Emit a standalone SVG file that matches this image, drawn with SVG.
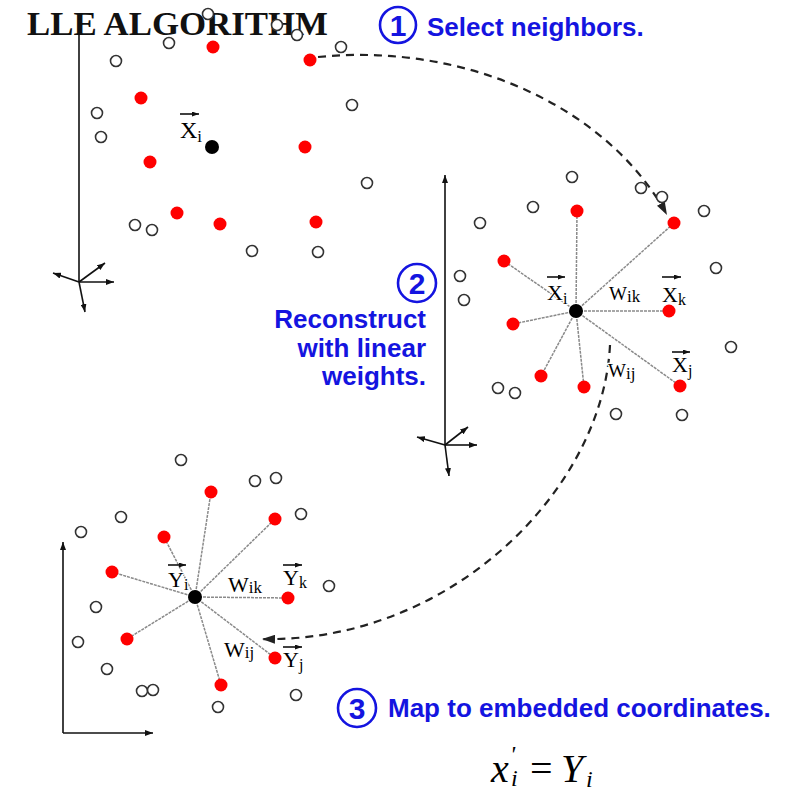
<svg xmlns="http://www.w3.org/2000/svg" width="795" height="798" viewBox="0 0 795 798">
<style>
.op{fill:#fff;stroke:#333;stroke-width:1.6}
.rd{fill:#ff0000}
.bk{fill:#000}
.nb{stroke:#8a8a8a;stroke-width:1.5;stroke-dasharray:3 1;fill:none}
.ax{stroke:#111;stroke-width:1.6;fill:none}
.dash{stroke:#222;stroke-width:2.2;stroke-dasharray:8 6;fill:none}
.lab{font-family:"Liberation Serif","Times New Roman",serif;fill:#000;paint-order:stroke;stroke:#fff;stroke-width:2.5;stroke-linejoin:round}
.vec{stroke:#111;stroke-width:1.6;fill:none}
.blue{font-family:"Liberation Sans",Arial,sans-serif;font-weight:bold;fill:#1414e0;font-size:26px}
.num{stroke:#1414e0;stroke-width:2.6;fill:#fff}
.math{font-family:"Liberation Serif","Times New Roman",serif;fill:#000}
</style>
<defs>
<marker id="ah" viewBox="0 0 12 8" refX="12" refY="4" markerWidth="13" markerHeight="9" markerUnits="userSpaceOnUse" orient="auto" preserveAspectRatio="none"><path d="M0,0 L12,4 L0,8 z" fill="#222"/></marker>
<marker id="axh" viewBox="0 0 8 6" refX="8" refY="3" markerWidth="8" markerHeight="6" markerUnits="userSpaceOnUse" orient="auto" preserveAspectRatio="none"><path d="M0,0 L8,3 L0,6 z" fill="#111"/></marker>
<marker id="vh" viewBox="0 0 6 5" refX="6" refY="2.5" markerWidth="7" markerHeight="5" markerUnits="userSpaceOnUse" orient="auto" preserveAspectRatio="none"><path d="M0,0 L6,2.5 L0,5 z" fill="#111"/></marker>
</defs>
<rect width="795" height="798" fill="#fff"/>

<g id="title">
<text x="27" y="35" font-family="Liberation Serif,'Times New Roman',serif" font-weight="bold" font-size="34.5" fill="#111" textLength="301" lengthAdjust="spacingAndGlyphs">LLE ALGORITHM</text>
</g>

<g id="axes1">
<line class="ax" x1="79" y1="282" x2="79" y2="30"/>
<line class="ax" x1="79" y1="282" x2="114" y2="282" marker-end="url(#axh)"/>
<line class="ax" x1="79" y1="282" x2="105" y2="263" marker-end="url(#axh)"/>
<line class="ax" x1="79" y1="282" x2="53" y2="273" marker-end="url(#axh)"/>
<line class="ax" x1="79" y1="282" x2="85" y2="312" marker-end="url(#axh)"/>
</g>
<g id="axes2">
<line class="ax" x1="445" y1="445" x2="445" y2="175" marker-end="url(#axh)"/>
<line class="ax" x1="445" y1="445" x2="477" y2="445" marker-end="url(#axh)"/>
<line class="ax" x1="445" y1="445" x2="468" y2="427" marker-end="url(#axh)"/>
<line class="ax" x1="445" y1="445" x2="417" y2="437" marker-end="url(#axh)"/>
<line class="ax" x1="445" y1="445" x2="449" y2="476" marker-end="url(#axh)"/>
</g>
<g id="axes3">
<line class="ax" x1="63" y1="733" x2="63" y2="542" marker-end="url(#axh)"/>
<line class="ax" x1="63" y1="733" x2="153" y2="733" marker-end="url(#axh)"/>
</g>

<g id="connectors">
<path class="dash" d="M318,57 C470,42 610,110 667,215" marker-end="url(#ah)"/>
<path class="dash" d="M610,345 C603,490 450,643 262,639" marker-end="url(#ah)"/>
<g id="weights2">
<line class="nb" x1="576" y1="311" x2="577" y2="211"/>
<line class="nb" x1="576" y1="311" x2="674" y2="223"/>
<line class="nb" x1="576" y1="311" x2="504" y2="261"/>
<line class="nb" x1="576" y1="311" x2="513" y2="324"/>
<line class="nb" x1="576" y1="311" x2="669" y2="311"/>
<line class="nb" x1="576" y1="311" x2="541" y2="376"/>
<line class="nb" x1="576" y1="311" x2="584" y2="387"/>
<line class="nb" x1="576" y1="311" x2="680" y2="386"/>
</g>
<g id="weights3">
<line class="nb" x1="195" y1="597" x2="211" y2="492"/>
<line class="nb" x1="195" y1="597" x2="275" y2="519"/>
<line class="nb" x1="195" y1="597" x2="164" y2="537"/>
<line class="nb" x1="195" y1="597" x2="112" y2="572"/>
<line class="nb" x1="195" y1="597" x2="288" y2="598"/>
<line class="nb" x1="195" y1="597" x2="127" y2="639"/>
<line class="nb" x1="195" y1="597" x2="275" y2="658"/>
<line class="nb" x1="195" y1="597" x2="221" y2="685"/>
</g>
</g>

<g id="labels1">
<text class="lab" x="180" y="138" font-size="24">X<tspan font-size="17" dy="4">i</tspan></text>
<line class="vec" x1="180" y1="114" x2="199" y2="114" marker-end="url(#vh)"/>
</g>
<g id="labels2">
<text class="lab" x="547" y="300" font-size="22">X<tspan font-size="16" dy="4">i</tspan></text>
<line class="vec" x1="547" y1="277" x2="565" y2="277" marker-end="url(#vh)"/>
<text class="lab" x="609" y="300" font-size="19">W<tspan font-size="17" dy="2">ik</tspan></text>
<text class="lab" x="662" y="302" font-size="22">X<tspan font-size="16" dy="3">k</tspan></text>
<line class="vec" x1="662" y1="277" x2="681" y2="277" marker-end="url(#vh)"/>
<text class="lab" x="608" y="377" font-size="19">W<tspan font-size="17" dy="2">ij</tspan></text>
<text class="lab" x="672" y="372" font-size="22">X<tspan font-size="16" dy="4">j</tspan></text>
<line class="vec" x1="672" y1="352" x2="690" y2="352" marker-end="url(#vh)"/>
</g>
<g id="labels3">
<text class="lab" x="168" y="587" font-size="22">Y<tspan font-size="16" dy="3">i</tspan></text>
<line class="vec" x1="168" y1="565" x2="186" y2="565" marker-end="url(#vh)"/>
<text class="lab" x="228" y="592" font-size="22">W<tspan font-size="17" dy="1">ik</tspan></text>
<text class="lab" x="283" y="585" font-size="22">Y<tspan font-size="16" dy="3">k</tspan></text>
<line class="vec" x1="283" y1="565" x2="302" y2="565" marker-end="url(#vh)"/>
<text class="lab" x="224" y="657" font-size="22">W<tspan font-size="17" dy="1">ij</tspan></text>
<text class="lab" x="283" y="667" font-size="22">Y<tspan font-size="16" dy="3">j</tspan></text>
<line class="vec" x1="283" y1="647" x2="302" y2="647" marker-end="url(#vh)"/>
</g>

<g id="panel1">
<circle class="op" cx="208" cy="14" r="5.5"/>
<circle class="op" cx="277" cy="25" r="5.5"/>
<circle class="op" cx="297" cy="35" r="5.5"/>
<circle class="op" cx="169" cy="43" r="5.5"/>
<circle class="op" cx="341" cy="47" r="5.5"/>
<circle class="op" cx="116" cy="61" r="5.5"/>
<circle class="op" cx="352" cy="105" r="5.5"/>
<circle class="op" cx="97" cy="113" r="5.5"/>
<circle class="op" cx="101" cy="137" r="5.5"/>
<circle class="op" cx="367" cy="183" r="5.5"/>
<circle class="op" cx="135" cy="225" r="5.5"/>
<circle class="op" cx="152" cy="230" r="5.5"/>
<circle class="op" cx="252" cy="251" r="5.5"/>
<circle class="op" cx="318" cy="252" r="5.5"/>
<circle class="rd" cx="213" cy="47" r="6.5"/>
<circle class="rd" cx="310" cy="60" r="6.5"/>
<circle class="rd" cx="141" cy="98" r="6.5"/>
<circle class="rd" cx="150" cy="162" r="6.5"/>
<circle class="rd" cx="305" cy="147" r="6.5"/>
<circle class="rd" cx="177" cy="213" r="6.5"/>
<circle class="rd" cx="220" cy="224" r="6.5"/>
<circle class="rd" cx="316" cy="222" r="6.5"/>
<circle class="bk" cx="212" cy="147" r="7"/>
</g>

<g id="panel2">
<circle class="op" cx="572" cy="177" r="5.5"/>
<circle class="op" cx="641" cy="188" r="5.5"/>
<circle class="op" cx="662" cy="197" r="5.5"/>
<circle class="op" cx="533" cy="207" r="5.5"/>
<circle class="op" cx="704" cy="211" r="5.5"/>
<circle class="op" cx="480" cy="223" r="5.5"/>
<circle class="op" cx="716" cy="268" r="5.5"/>
<circle class="op" cx="460" cy="276" r="5.5"/>
<circle class="op" cx="464" cy="300" r="5.5"/>
<circle class="op" cx="731" cy="347" r="5.5"/>
<circle class="op" cx="498" cy="388" r="5.5"/>
<circle class="op" cx="515" cy="393" r="5.5"/>
<circle class="op" cx="616" cy="414" r="5.5"/>
<circle class="op" cx="682" cy="415" r="5.5"/>
<circle class="rd" cx="577" cy="211" r="6.5"/>
<circle class="rd" cx="674" cy="223" r="6.5"/>
<circle class="rd" cx="504" cy="261" r="6.5"/>
<circle class="rd" cx="513" cy="324" r="6.5"/>
<circle class="rd" cx="669" cy="311" r="6.5"/>
<circle class="rd" cx="541" cy="376" r="6.5"/>
<circle class="rd" cx="584" cy="387" r="6.5"/>
<circle class="rd" cx="680" cy="386" r="6.5"/>
<circle class="bk" cx="576" cy="311" r="7"/>
</g>

<g id="panel3">
<circle class="op" cx="181" cy="460" r="5.5"/>
<circle class="op" cx="255" cy="481" r="5.5"/>
<circle class="op" cx="276" cy="478" r="5.5"/>
<circle class="op" cx="121" cy="517" r="5.5"/>
<circle class="op" cx="301" cy="514" r="5.5"/>
<circle class="op" cx="81" cy="532" r="5.5"/>
<circle class="op" cx="329" cy="586" r="5.5"/>
<circle class="op" cx="96" cy="607" r="5.5"/>
<circle class="op" cx="78" cy="642" r="5.5"/>
<circle class="op" cx="107" cy="669" r="5.5"/>
<circle class="op" cx="142" cy="691" r="5.5"/>
<circle class="op" cx="153" cy="690" r="5.5"/>
<circle class="op" cx="218" cy="707" r="5.5"/>
<circle class="op" cx="296" cy="695" r="5.5"/>
<circle class="rd" cx="211" cy="492" r="6.5"/>
<circle class="rd" cx="275" cy="519" r="6.5"/>
<circle class="rd" cx="164" cy="537" r="6.5"/>
<circle class="rd" cx="112" cy="572" r="6.5"/>
<circle class="rd" cx="288" cy="598" r="6.5"/>
<circle class="rd" cx="127" cy="639" r="6.5"/>
<circle class="rd" cx="275" cy="658" r="6.5"/>
<circle class="rd" cx="221" cy="685" r="6.5"/>
<circle class="bk" cx="195" cy="597" r="7"/>
</g>

<g id="step1">
<circle class="num" cx="398" cy="25" r="18"/>
<text class="blue" x="398" y="36" text-anchor="middle" style="font-size:30px">1</text>
<text class="blue" x="427" y="36">Select neighbors.</text>
</g>
<g id="step2">
<circle class="num" cx="417" cy="283" r="19"/>
<text class="blue" x="417" y="294" text-anchor="middle" style="font-size:30px">2</text>
<text class="blue" x="426" y="328" text-anchor="end">Reconstruct</text>
<text class="blue" x="426" y="357" text-anchor="end">with linear</text>
<text class="blue" x="426" y="385" text-anchor="end">weights.</text>
</g>
<g id="step3">
<circle class="num" cx="357" cy="708" r="19"/>
<text class="blue" x="357" y="719" text-anchor="middle" style="font-size:30px">3</text>
<text class="blue" x="388" y="717">Map to embedded coordinates.</text>
</g>

<g id="formula">
<text class="math" x="491" y="782" font-size="40" font-style="italic">x</text>
<text class="math" x="510" y="762" font-size="24" font-style="italic">'</text>
<text class="math" x="511" y="786" font-size="24" font-style="italic">i</text>
<text class="math" x="530" y="782" font-size="40">=</text>
<text class="math" x="561" y="782" font-size="40" font-style="italic">Y</text>
<text class="math" x="586" y="787" font-size="24" font-style="italic">i</text>
</g>
</svg>
